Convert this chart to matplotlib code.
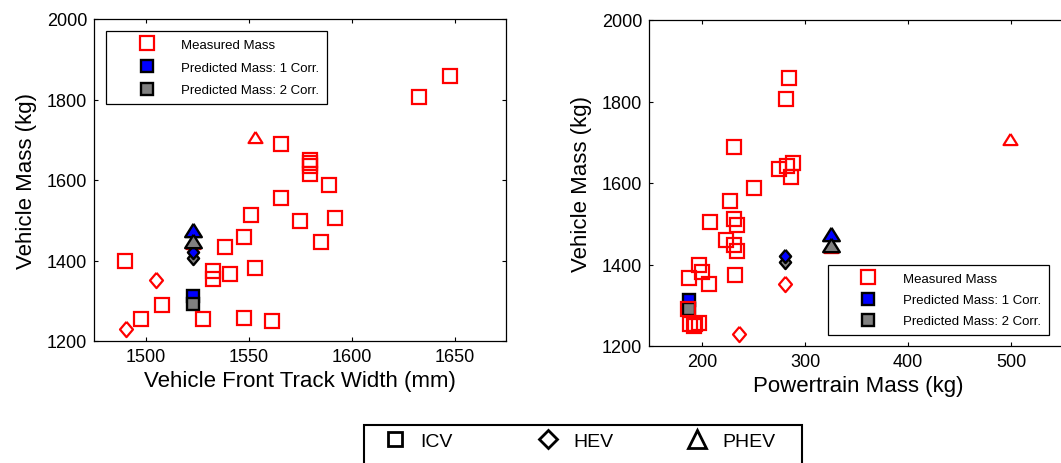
import matplotlib.pyplot as plt
from matplotlib.lines import Line2D
from matplotlib.patches import Rectangle

plt.rcParams['font.family'] = ['Liberation Sans', 'DejaVu Sans']

# measured ICVs: vehicle mass (kg), front track width (mm), powertrain mass (kg)
icv_mass = [1858, 1807, 1689, 1649, 1641, 1635, 1615, 1588, 1555, 1512, 1505, 1497, 1459,
            1447, 1434, 1398, 1382, 1374, 1366, 1353, 1290, 1257, 1254, 1254, 1250]
icv_track = [1648, 1632.6, 1566, 1580, 1580, 1580, 1580, 1589, 1566, 1551, 1592, 1575, 1548,
             1585, 1538.5, 1490, 1553, 1533, 1541, 1533, 1508, 1548, 1498, 1528, 1561.5]
icv_pt = [284, 281.6, 231.3, 288, 282, 274.5, 286, 250.6, 226.8, 231.3, 207.4, 234, 223.5,
          230.6, 234, 196.8, 200, 232.3, 187, 206.5, 186.7, 196.8, 188, 193.5, 191.9]

# measured HEVs / PHEVs
hev_mass = [1351, 1229]
hev_track = [1505, 1490.4]
hev_pt = [280.6, 235.5]
phev_mass = [1708, 1443]
phev_track = [1553, 1523]
phev_pt = [499, 325]

# predicted vehicle (ICV, HEV, PHEV versions)
pred_track = [1523, 1523, 1523]
pred_pt = [187, 281, 325]
pred1_mass = [1313, 1422, 1475]
pred2_mass = [1292, 1407, 1448]

type_labels = ['ICV', 'HEV', 'PHEV']

RED = (1, 0, 0)
BLUE = (0, 0, 1)
GRAY = (0.5, 0.5, 0.5)

# matlab-ish marker shapes (a bit taller diamond, flatter triangle)
DIAM = [(0, 1), (0.85, 0), (0, -1), (-0.85, 0), (0, 1)]
TRI = [(0, 0.8), (1, -0.8), (-1, -0.8), (0, 0.8)]

W, H = 1061, 464
fig = plt.figure(figsize=(W / 100, H / 100), dpi=100)
ax1 = fig.add_axes([94 / W, 1 - 342 / H, 412 / W, 322 / H])
ax2 = fig.add_axes([649 / W, 1 - 347 / H, 418 / W, 326 / H])


def draw(ax, x_icv, x_hev, x_phev, x_pred):
    # predicted squares sit under the measured ones
    ax.plot(x_pred[0], pred1_mass[0], 's', mfc=BLUE, mec='k', ms=9, mew=1.7)
    ax.plot(x_pred[0], pred2_mass[0], 's', mfc=GRAY, mec='k', ms=9, mew=1.7)
    ax.plot(x_icv, icv_mass, 's', mfc='none', mec=RED, ms=10, mew=1.6)
    ax.plot(x_hev, hev_mass, ls='none', marker=DIAM, mfc='none', mec=RED, ms=11, mew=1.6)
    ax.plot(x_phev, phev_mass, ls='none', marker=TRI, mfc='none', mec=RED, ms=10, mew=1.6)
    ax.plot(x_pred[1], pred2_mass[1], ls='none', marker=DIAM, mfc=GRAY, mec='k', ms=9.5, mew=1.7)
    ax.plot(x_pred[1], pred1_mass[1], ls='none', marker=DIAM, mfc=BLUE, mec='k', ms=9.5, mew=1.7)
    ax.plot(x_pred[2], pred1_mass[2], ls='none', marker=TRI, mfc=BLUE, mec='k', ms=12, mew=1.7)
    ax.plot(x_pred[2], pred2_mass[2], ls='none', marker=TRI, mfc=GRAY, mec='k', ms=12, mew=1.7)

    ax.set_ylim(1200, 2000)
    ax.set_yticks([1200, 1400, 1600, 1800, 2000])
    ax.tick_params(direction='in', length=3, width=0.8, top=True, right=True,
                   labelsize=13, pad=5)
    for s in ax.spines.values():
        s.set_linewidth(0.9)
    ax.set_ylabel('Vehicle Mass (kg)', fontsize=16, labelpad=7)

    handles = [
        Line2D([], [], ls='none', marker='s', mfc='none', mec=RED, ms=10, mew=1.6),
        Line2D([], [], ls='none', marker='s', mfc=BLUE, mec='k', ms=9, mew=1.7),
        Line2D([], [], ls='none', marker='s', mfc=GRAY, mec='k', ms=9, mew=1.7),
    ]
    labels = ['Measured Mass', 'Predicted Mass: 1 Corr.', 'Predicted Mass: 2 Corr.']
    return handles, labels


h, l = draw(ax1, icv_track, hev_track, phev_track, pred_track)
ax1.set_xlim(1475, 1675)
ax1.set_xticks([1500, 1550, 1600, 1650])
ax1.set_xlabel('Vehicle Front Track Width (mm)', fontsize=16, labelpad=4)
lg1 = ax1.legend(h, l, loc='upper left', bbox_to_anchor=(0.029, 0.963), borderaxespad=0,
                 fontsize=9.5, numpoints=1, handlelength=4.97, handletextpad=0.1,
                 borderpad=0.6, labelspacing=0.79, fancybox=False, framealpha=1,
                 edgecolor='k')
lg1.get_frame().set_linewidth(0.9)

h, l = draw(ax2, icv_pt, hev_pt, phev_pt, pred_pt)
ax2.set_xlim(148.5, 554.3)
ax2.set_xticks([200, 300, 400, 500])
ax2.set_xlabel('Powertrain Mass (kg)', fontsize=16, labelpad=4)
lg2 = ax2.legend(h, l, loc='upper left', bbox_to_anchor=(0.4275, 0.249), borderaxespad=0,
                 fontsize=9.5, numpoints=1, handlelength=4.97, handletextpad=0.1,
                 borderpad=0.6, labelspacing=0.68, fancybox=False, framealpha=1,
                 edgecolor='k')
lg2.get_frame().set_linewidth(0.9)

# shared vehicle-type legend at the bottom (box runs off the bottom edge)
fig.patches.append(Rectangle((364 / W, -0.05), (802 - 364) / W, 0.05 + 1 - 426 / H,
                             transform=fig.transFigure, fill=False, ec='k', lw=1.5))
type_handles = [
    Line2D([], [], ls='none', marker='s', mfc='none', mec='k', ms=10, mew=2),
    Line2D([], [], ls='none', marker='D', mfc='none', mec='k', ms=9, mew=2),
    Line2D([], [], ls='none', marker='^', mfc='none', mec='k', ms=12.5, mew=2),
]
marker_x = [395, 548, 697]
for hd, lab, mx in zip(type_handles, type_labels, marker_x):
    fig.legend([hd], [lab], loc='center left', bbox_to_anchor=((mx - 9.7) / W, 1 - 442 / H),
               borderaxespad=0, borderpad=0, frameon=False, fontsize=14, numpoints=1,
               handlelength=1.0, handletextpad=0.78)

fig.savefig('out.png', dpi=100)
